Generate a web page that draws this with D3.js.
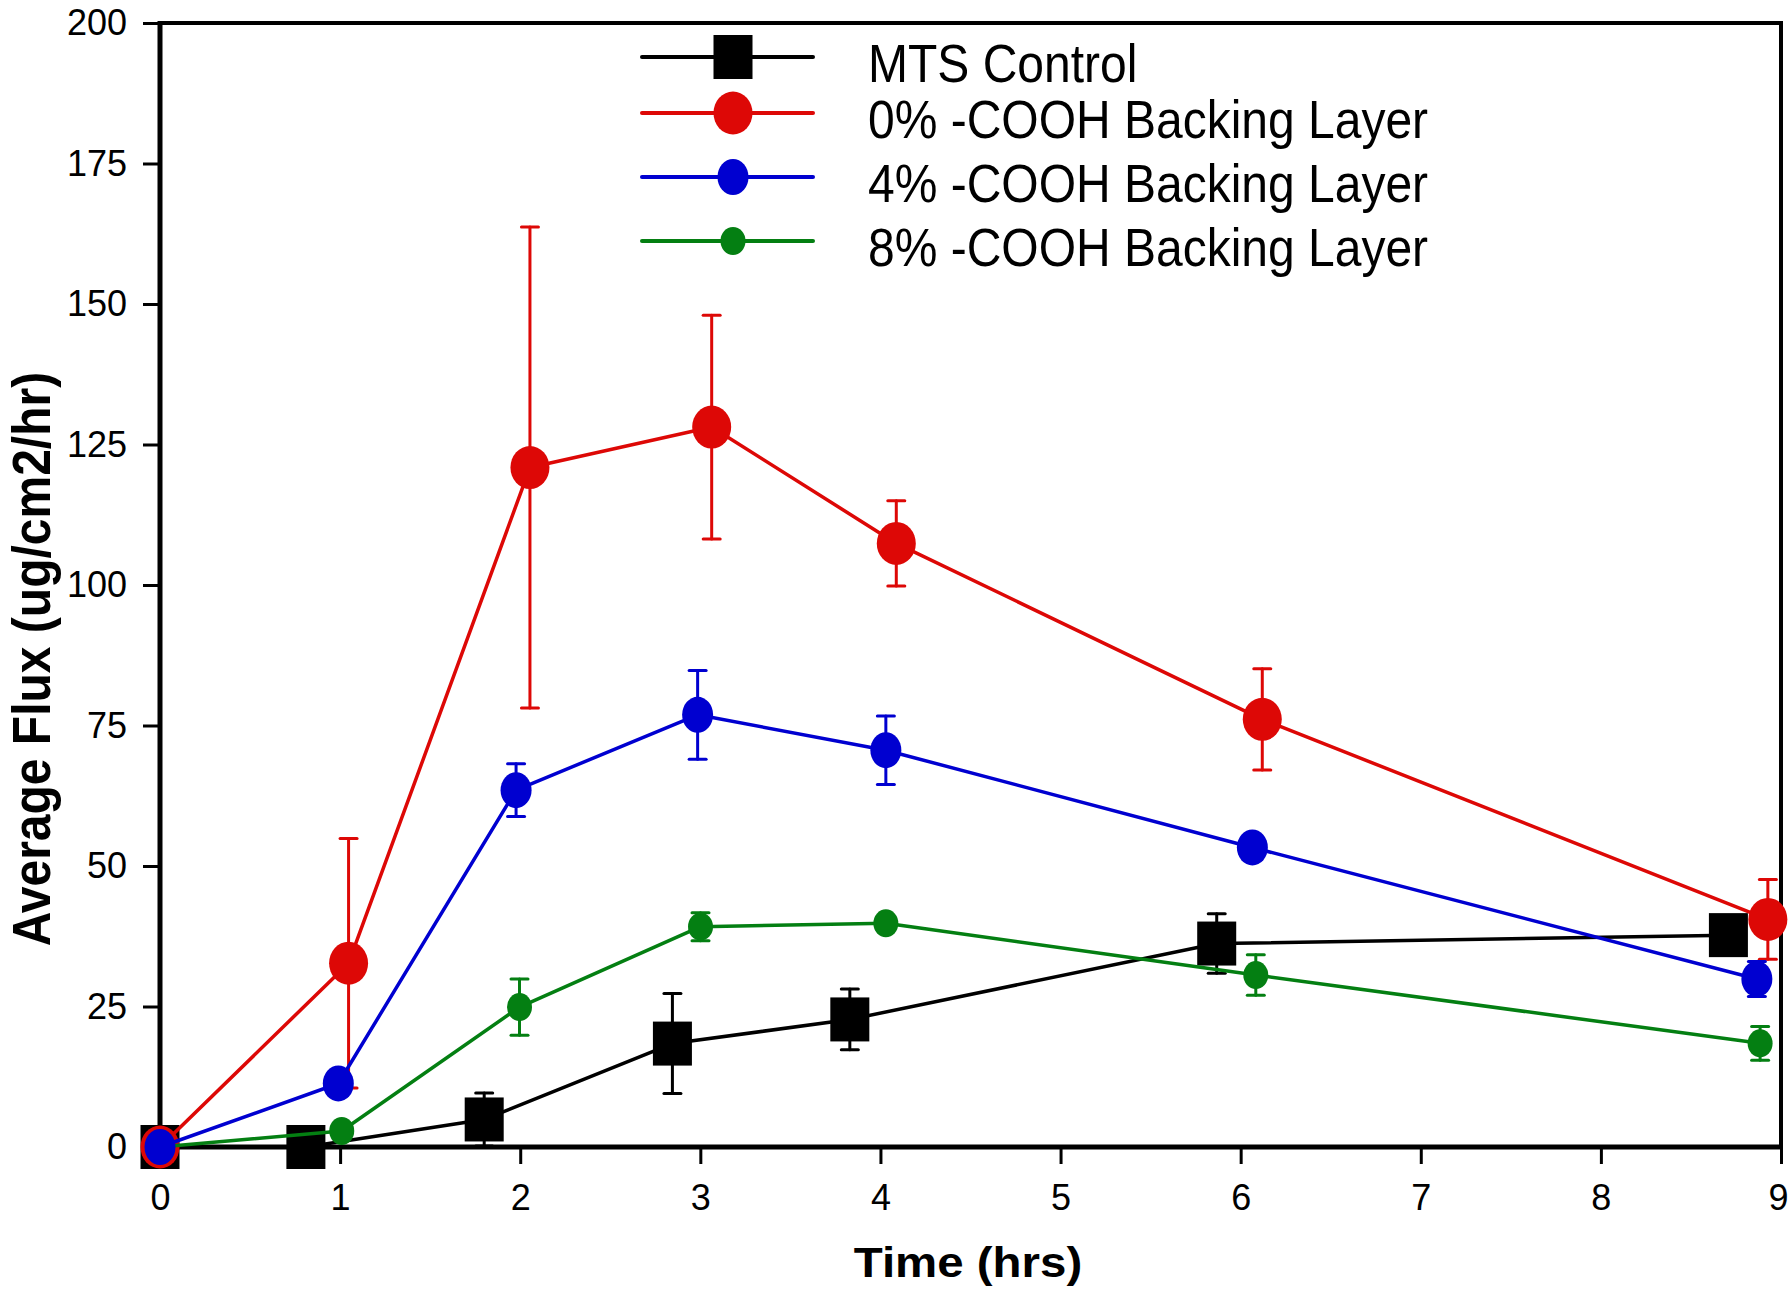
<!DOCTYPE html>
<html>
<head>
<meta charset="utf-8">
<script src="https://cdn.jsdelivr.net/npm/d3@7"></script>
<style>
  html, body { margin: 0; padding: 0; background: #fff; }
  svg { display: block; font-family: "Liberation Sans", Arial, sans-serif; }
</style>
</head>
<body>
<svg id="chart" width="1790" height="1291"></svg>
<script>
// ---------- data ----------
const seriesNames = ["MTS Control", "0% -COOH Backing Layer", "4% -COOH Backing Layer", "8% -COOH Backing Layer"];

const mtsTime = [0, 0.81, 1.8, 2.845, 3.83, 5.867, 8.708];
const mtsFlux = [0, 0, 4.9, 18.4, 22.7, 36.2, 37.7];
const mtsErr  = [0, 0, 4.7, 8.9, 5.4, 5.3, 1];

const cooh0Time = [0, 1.047, 2.054, 3.063, 4.088, 6.12, 8.927];
const cooh0Flux = [0, 32.7, 120.9, 128.1, 107.4, 76.1, 40.5];
const cooh0Err  = [0, 22.2, 42.8, 19.9, 7.6, 9.0, 7.1];

const cooh4Time = [0, 0.99, 1.977, 2.985, 4.03, 6.065, 8.866];
const cooh4Flux = [0, 11.3, 63.5, 76.9, 70.6, 53.3, 29.9];
const cooh4Err  = [0, 2, 4.7, 7.9, 6.1, 1.5, 3.1];

const cooh8Time = [0, 1.009, 1.996, 3.001, 4.03, 6.084, 8.884];
const cooh8Flux = [0, 2.85, 24.9, 39.2, 39.8, 30.6, 18.45];
const cooh8Err  = [0, 1, 5.0, 2.5, 1, 3.6, 3.0];

const xTicks = [0, 1, 2, 3, 4, 5, 6, 7, 8, 9];
const yTicks = [0, 25, 50, 75, 100, 125, 150, 175, 200];
const xTitle = "Time (hrs)";
const yTitle = "Average Flux (ug/cm2/hr)";

// ---------- styles ----------
const styles = [
  { color: "#000000", shape: "square", w: 39, h: 44, z: 0 },
  { color: "#dd0806", shape: "circle", w: 39, h: 43, z: 1 },
  { color: "#0000d0", shape: "circle", w: 31, h: 36, z: 3 },
  { color: "#047f12", shape: "circle", w: 25, h: 28, z: 2 }
];

const series = [
  { name: seriesNames[0], t: mtsTime, v: mtsFlux, e: mtsErr },
  { name: seriesNames[1], t: cooh0Time, v: cooh0Flux, e: cooh0Err },
  { name: seriesNames[2], t: cooh4Time, v: cooh4Flux, e: cooh4Err },
  { name: seriesNames[3], t: cooh8Time, v: cooh8Flux, e: cooh8Err }
].map((s, i) => Object.assign(s, styles[i], {
  pts: s.t.map((t, j) => ({ t, v: s.v[j], e: s.e[j] }))
}));

const L = 160, R = 1781, T = 23, B = 1147;
const svg = d3.select("#chart");
const x = d3.scaleLinear().domain([0, 9]).range([L, R]);
const y = d3.scaleLinear().domain([0, 200]).range([B, T]);
const FONT = "'Liberation Sans', Arial, sans-serif";

// ---------- frame (top/right) ----------
svg.append("line").attr("x1", L).attr("x2", R + 2).attr("y1", T).attr("y2", T)
  .attr("stroke", "#000").attr("stroke-width", 4);
svg.append("line").attr("x1", R).attr("x2", R).attr("y1", T).attr("y2", B)
  .attr("stroke", "#000").attr("stroke-width", 4);

// ---------- axes ----------
const yAxis = d3.axisLeft(y).tickValues(yTicks).tickFormat(d3.format("d"))
  .tickSize(17).tickSizeOuter(0).tickPadding(16);
const gy = svg.append("g").attr("transform", `translate(${L},0)`).call(yAxis);
gy.attr("font-family", FONT);
gy.select(".domain").attr("stroke-width", 5).attr("d", `M0,${T - 2}V${B + 2}`);
gy.selectAll(".tick line").attr("stroke-width", 3);
gy.selectAll(".tick text").attr("font-size", 36).attr("fill", "#000");

const xAxis = d3.axisBottom(x).tickValues(xTicks).tickFormat(d3.format("d"))
  .tickSize(17).tickSizeOuter(0).tickPadding(20);
const gx = svg.append("g").attr("transform", `translate(0,${B})`).call(xAxis);
gx.attr("font-family", FONT);
gx.select(".domain").attr("stroke-width", 5).attr("d", `M${L - 2},0H${R + 2}`);
gx.selectAll(".tick line").attr("stroke-width", 3);
gx.selectAll(".tick text").attr("font-size", 36).attr("fill", "#000")
  .attr("x", d => d === 9 ? -3 : 0);

// ---------- titles ----------
svg.append("text")
  .attr("transform", `translate(968,1277) scale(1.13,1)`)
  .attr("text-anchor", "middle").attr("font-size", 42).attr("font-weight", "bold")
  .text(xTitle);
svg.append("text")
  .attr("transform", `translate(50,659) rotate(-90) scale(1,1.12)`)
  .attr("text-anchor", "middle").attr("font-size", 48).attr("font-weight", "bold")
  .text(yTitle);

// ---------- series ----------
const line = d3.line().x(d => x(d.t)).y(d => y(d.v));
const capW = 17;

function drawMarker(g, s, cx, cy) {
  if (s.shape === "square") {
    g.append("rect").attr("x", cx - s.w / 2).attr("y", cy - s.h / 2)
      .attr("width", s.w).attr("height", s.h).attr("fill", s.color);
  } else {
    g.append("ellipse").attr("cx", cx).attr("cy", cy)
      .attr("rx", s.w / 2).attr("ry", s.h / 2).attr("fill", s.color);
  }
}

series.slice().sort((a, b) => a.z - b.z).forEach(s => {
  const g = svg.append("g");
  g.append("path").datum(s.pts).attr("d", line)
    .attr("fill", "none").attr("stroke", s.color).attr("stroke-width", 3.5)
    .attr("stroke-linejoin", "round");
  const eb = g.append("g").attr("stroke", s.color).attr("stroke-width", 3)
    .attr("stroke-linecap", "round");
  s.pts.filter(d => d.e > 0).forEach(d => {
    const cx = x(d.t), y1 = y(d.v + d.e), y0 = y(Math.max(0, d.v - d.e));
    eb.append("line").attr("x1", cx).attr("x2", cx).attr("y1", y1).attr("y2", y0);
    eb.append("line").attr("x1", cx - capW / 2).attr("x2", cx + capW / 2).attr("y1", y1).attr("y2", y1);
    eb.append("line").attr("x1", cx - capW / 2).attr("x2", cx + capW / 2).attr("y1", y0).attr("y2", y0);
  });
  s.pts.forEach(d => drawMarker(g, s, x(d.t), y(d.v)));
});

// ---------- legend ----------
const legY = [57, 113, 177, 241];
const leg = svg.append("g");
series.forEach((s, i) => {
  const ly = legY[i];
  leg.append("line").attr("x1", 642).attr("x2", 813).attr("y1", ly).attr("y2", ly)
    .attr("stroke", s.color).attr("stroke-width", 4).attr("stroke-linecap", "round");
  drawMarker(leg, s, 733, ly);
  leg.append("text")
    .attr("transform", `translate(868,${ly + 25}) scale(1,1.13)`)
    .attr("font-size", 48).attr("fill", "#000")
    .text(s.name);
});
</script>
</body>
</html>
